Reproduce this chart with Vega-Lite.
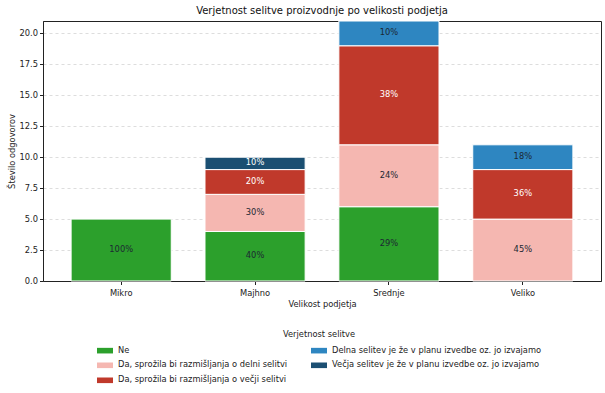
{
  "$schema": "https://vega.github.io/schema/vega-lite/v6.json",
  "autosize": {"type": "none"},
  "width": 558,
  "height": 260,
  "padding": {"left": 43, "top": 21, "right": 4, "bottom": 112},
  "background": "white",
  "config": {
    "font": "DejaVu Sans",
    "view": {"stroke": "#222222", "strokeWidth": 1},
    "axis": {"labelFont": "DejaVu Sans", "titleFont": "DejaVu Sans", "labelColor": "#222", "titleColor": "#222", "labelFontSize": 8.3, "titleFontSize": 8.3, "titleFontWeight": "normal", "domainColor": "#222", "tickColor": "#222", "tickSize": 3.5, "labelOverlap": false}
  },
  "title": {"text": "Verjetnost selitve proizvodnje po velikosti podjetja", "fontSize": 10, "fontWeight": "normal", "font": "DejaVu Sans", "color": "#111", "offset": 5},
  "data": {"values": [
    {"size": "Mikro", "cat": "Ne", "ord": 1, "count": 5, "pct": "100%"},
    {"size": "Majhno", "cat": "Ne", "ord": 1, "count": 4, "pct": "40%"},
    {"size": "Majhno", "cat": "Da, sprožila bi razmišljanja o delni selitvi", "ord": 2, "count": 3, "pct": "30%"},
    {"size": "Majhno", "cat": "Da, sprožila bi razmišljanja o večji selitvi", "ord": 3, "count": 2, "pct": "20%"},
    {"size": "Majhno", "cat": "Večja selitev je že v planu izvedbe oz. jo izvajamo", "ord": 5, "count": 1, "pct": "10%"},
    {"size": "Srednje", "cat": "Ne", "ord": 1, "count": 6, "pct": "29%"},
    {"size": "Srednje", "cat": "Da, sprožila bi razmišljanja o delni selitvi", "ord": 2, "count": 5, "pct": "24%"},
    {"size": "Srednje", "cat": "Da, sprožila bi razmišljanja o večji selitvi", "ord": 3, "count": 8, "pct": "38%"},
    {"size": "Srednje", "cat": "Delna selitev je že v planu izvedbe oz. jo izvajamo", "ord": 4, "count": 2, "pct": "10%"},
    {"size": "Veliko", "cat": "Da, sprožila bi razmišljanja o delni selitvi", "ord": 2, "count": 5, "pct": "45%"},
    {"size": "Veliko", "cat": "Da, sprožila bi razmišljanja o večji selitvi", "ord": 3, "count": 4, "pct": "36%"},
    {"size": "Veliko", "cat": "Delna selitev je že v planu izvedbe oz. jo izvajamo", "ord": 4, "count": 2, "pct": "18%"}
  ]},
  "transform": [
    {"stack": "count", "groupby": ["size"], "sort": [{"field": "ord"}], "as": ["y0", "y1"]},
    {"calculate": "(datum.y0 + datum.y1) / 2", "as": "ymid"}
  ],
  "encoding": {
    "x": {"field": "size", "type": "nominal", "sort": ["Mikro", "Majhno", "Srednje", "Veliko"],
      "scale": {"paddingInner": 0.252, "paddingOuter": 0.21},
      "axis": {"title": "Velikost podjetja", "labelAngle": 0, "labelPadding": 4, "titlePadding": 3}}
  },
  "layer": [
    {
      "mark": {"type": "bar", "stroke": "white", "strokeWidth": 1},
      "encoding": {
        "y": {"field": "y0", "type": "quantitative", "scale": {"domain": [0, 21], "nice": false}, 
          "axis": {"title": "Število odgovorov", "values": [0, 2.5, 5, 7.5, 10, 12.5, 15, 17.5, 20], "labelExpr": "format(datum.value, '.1f')", "labelOverlap": false, "grid": true, "gridDash": [3, 3], "gridColor": "#dddddd", "titlePadding": 3}},
        "y2": {"field": "y1"},
        "color": {"field": "cat", "type": "nominal",
          "scale": {
            "domain": ["Ne", "Da, sprožila bi razmišljanja o delni selitvi", "Da, sprožila bi razmišljanja o večji selitvi", "Delna selitev je že v planu izvedbe oz. jo izvajamo", "Večja selitev je že v planu izvedbe oz. jo izvajamo"],
            "range": ["#2ca02c", "#f5b7b1", "#c0392b", "#2e86c1", "#1b4f72"]
          },
          "legend": {"title": "Verjetnost selitve", "orient": "none", "legendX": 54, "legendY": 309, "columns": 2, "columnPadding": 23, "rowPadding": 3,
            "titleAnchor": "middle", "titleFontSize": 8.3, "titleFontWeight": "normal", "titleFont": "DejaVu Sans", "titleColor": "#222", "titlePadding": 4,
            "labelFontSize": 8.3, "labelFont": "DejaVu Sans", "labelColor": "#222", "labelOffset": 5, "labelLimit": 400,
            "symbolType": "M-1,-0.35H1V0.35H-1Z", "symbolSize": 256, "symbolStrokeWidth": 0}
        }
      }
    },
    {
      "mark": {"type": "text", "fontSize": 8.3, "font": "DejaVu Sans"},
      "encoding": {
        "y": {"field": "ymid", "type": "quantitative",
          "axis": {"title": "Število odgovorov", "values": [0, 2.5, 5, 7.5, 10, 12.5, 15, 17.5, 20], "labelExpr": "format(datum.value, '.1f')", "labelOverlap": false, "grid": true, "gridDash": [3, 3], "gridColor": "#dddddd", "titlePadding": 3}},
        "text": {"field": "pct"},
        "color": {"condition": {"test": "datum.ord === 3 || datum.ord === 5", "value": "white"}, "value": "#1c2833"}
      }
    }
  ]
}
